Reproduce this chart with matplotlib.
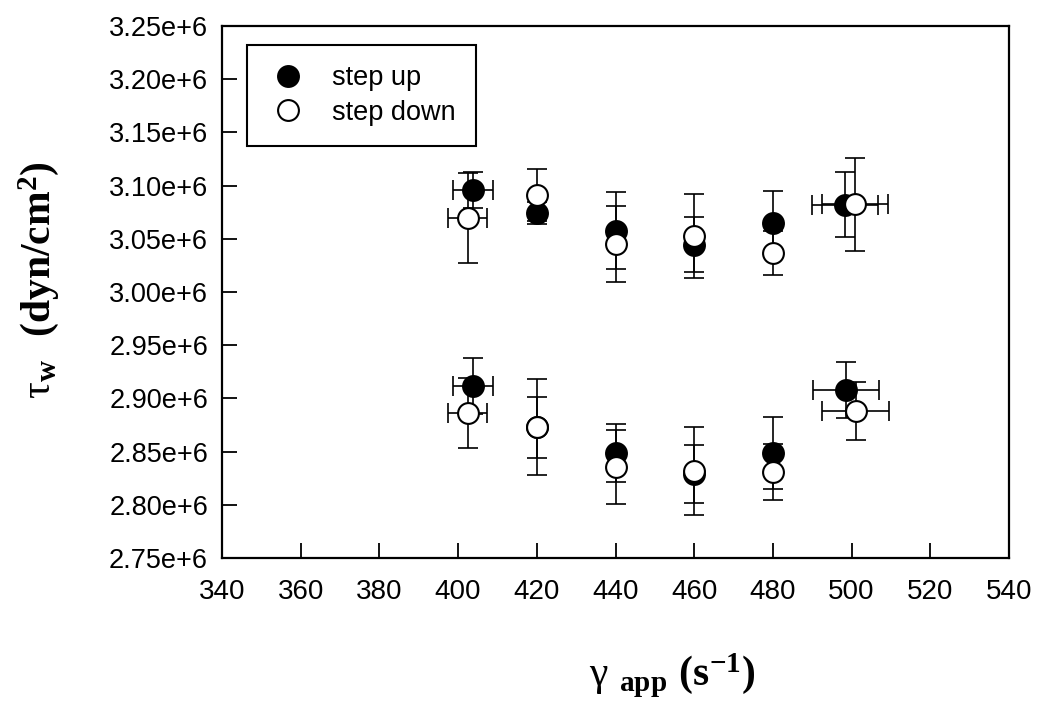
import numpy as np
import matplotlib
matplotlib.use("Agg")
import matplotlib.pyplot as plt
from matplotlib.lines import Line2D
from matplotlib.ticker import FuncFormatter, FixedLocator

plt.rcParams['font.family'] = ['Liberation Sans', 'DejaVu Sans']
plt.rcParams['mathtext.fontset'] = 'custom'
plt.rcParams['mathtext.rm'] = 'Liberation Serif'
plt.rcParams['mathtext.bf'] = 'Liberation Serif:bold'
plt.rcParams['mathtext.it'] = 'Liberation Serif:italic'

# ---- data ----
# step up (filled)
up_x = [403.8, 420, 440, 460, 480, 498.3,
        403.8, 420, 440, 460, 480, 498.5]
up_y = [3.0959e6, 3.0742e6, 3.0578e6, 3.0446e6, 3.0648e6, 3.0822e6,
        2.9117e6, 2.8727e6, 2.8487e6, 2.8290e6, 2.8487e6, 2.9079e6]
up_yerr = [0.0166e6, 0.010e6, 0.036e6, 0.026e6, 0.030e6, 0.0305e6,
           0.026e6, 0.0287e6, 0.027e6, 0.027e6, 0.034e6, 0.026e6]
up_xerr = [5.0, 0, 0, 0, 0, 8.4,
           5.0, 0, 0, 0, 0, 8.4]

# step down (open)
dn_x = [402.4, 420, 440, 460, 480, 500.9,
        402.4, 420, 440, 460, 480, 501.0]
dn_y = [3.0695e6, 3.0912e6, 3.0451e6, 3.0526e6, 3.0367e6, 3.0827e6,
        2.8863e6, 2.8731e6, 2.8355e6, 2.8318e6, 2.8308e6, 2.8882e6]
dn_yerr = [0.042e6, 0.0245e6, 0.036e6, 0.0395e6, 0.021e6, 0.0437e6,
           0.033e6, 0.045e6, 0.035e6, 0.041e6, 0.026e6, 0.027e6]
dn_xerr = [5.0, 0, 0, 0, 0, 8.4,
           5.0, 0, 0, 0, 0, 8.4]

x_ticks = [340, 360, 380, 400, 420, 440, 460, 480, 500, 520, 540]
y_ticks = [2.75e6, 2.80e6, 2.85e6, 2.90e6, 2.95e6, 3.00e6,
           3.05e6, 3.10e6, 3.15e6, 3.20e6, 3.25e6]
labels = ["step up", "step down"]

# ---- figure ----
fig = plt.figure(figsize=(10.40, 7.03), dpi=100)
ax = fig.add_axes([222/1040, 1-558/703, 787/1040, 532/703])

ms = 15
lw = 1.2
cs = 7.2


def draw(xs, ys, yerr, xerr, face, z):
    xs = np.asarray(xs); ys = np.asarray(ys)
    yerr = np.asarray(yerr); xerr = np.asarray(xerr)
    ax.errorbar(xs, ys, yerr=yerr, fmt='none', ecolor='black',
                elinewidth=lw, capsize=cs, capthick=lw, zorder=z)
    m = xerr > 0
    ax.errorbar(xs[m], ys[m], xerr=xerr[m], fmt='none', ecolor='black',
                elinewidth=lw, capsize=cs, capthick=lw, zorder=z)
    ax.plot(xs, ys, 'o', ms=ms, mfc=face, mec='black', mew=1.5,
            linestyle='none', zorder=z + 0.5)


draw(up_x, up_y, up_yerr, up_xerr, 'black', 3)
draw(dn_x, dn_y, dn_yerr, dn_xerr, 'white', 4)

ax.set_xlim(340, 540)
ax.set_ylim(2.75e6, 3.25e6)
ax.xaxis.set_major_locator(FixedLocator(x_ticks))
ax.yaxis.set_major_locator(FixedLocator(y_ticks))
ax.yaxis.set_major_formatter(FuncFormatter(lambda v, p: f"{v/1e6:.2f}e+6"))
ax.xaxis.set_major_formatter(FuncFormatter(lambda v, p: f"{v:.0f}"))
ax.tick_params(axis='both', direction='in', length=11, width=1.3,
               colors='black')
ax.tick_params(axis='x', pad=15, labelsize=20)
ax.tick_params(axis='y', pad=10, labelsize=19.5)
for s in ax.spines.values():
    s.set_linewidth(1.6)

ax.set_ylabel(r'$\mathrm{\tau}_{\mathbf{w}}$  $\mathbf{(dyn/cm^2)}$', fontsize=30)
ax.yaxis.set_label_coords(-0.205, 0.5226)
ax.set_xlabel(r'$\mathrm{\gamma}$ $_{\mathbf{app}}$ $\mathbf{(s^{-1})}$', fontsize=30)
ax.xaxis.set_label_coords(0.572, -0.176)

handles = [Line2D([], [], marker='o', ls='none', ms=ms, mfc='black', mec='black', mew=1.5),
           Line2D([], [], marker='o', ls='none', ms=ms, mfc='white', mec='black', mew=1.5)]
leg = ax.legend(handles, labels, loc='upper left', bbox_to_anchor=(0.0318, 0.964),
                borderaxespad=0, fontsize=19.5, frameon=True, fancybox=False,
                edgecolor='black', framealpha=1, handlelength=1.5,
                handletextpad=0.9, labelspacing=0.3, borderpad=0.75)
leg.get_frame().set_linewidth(1.5)

fig.savefig("out.png", dpi=100)
